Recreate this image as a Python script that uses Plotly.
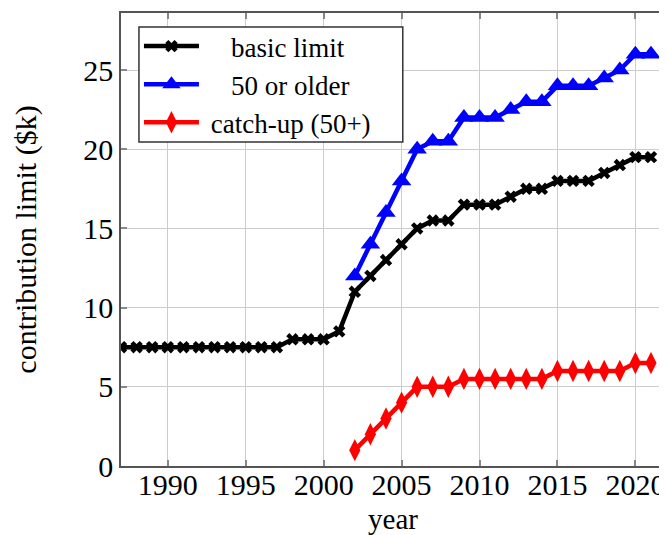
import plotly.graph_objects as go

years = list(range(1987, 2022))
basic_limit = [7.5, 7.5, 7.5, 7.5, 7.5, 7.5, 7.5, 7.5, 7.5, 7.5, 7.5,
               8.0, 8.0, 8.0, 8.5, 11.0, 12.0, 13.0, 14.0, 15.0, 15.5,
               15.5, 16.5, 16.5, 16.5, 17.0, 17.5, 17.5, 18.0, 18.0, 18.0,
               18.5, 19.0, 19.5, 19.5]

years_50 = list(range(2002, 2022))
older_50 = [12.0, 14.0, 16.0, 18.0, 20.0, 20.5, 20.5, 22.0, 22.0, 22.0,
            22.5, 23.0, 23.0, 24.0, 24.0, 24.0, 24.5, 25.0, 26.0, 26.0]
catch_up = [1.0, 2.0, 3.0, 4.0, 5.0, 5.0, 5.0, 5.5, 5.5, 5.5,
            5.5, 5.5, 5.5, 6.0, 6.0, 6.0, 6.0, 6.0, 6.5, 6.5]

x_ticks = [1990, 1995, 2000, 2005, 2010, 2015, 2020]
y_ticks = [0, 5, 10, 15, 20, 25]

FONT = "Liberation Serif"
NB = "\u00a0"

fig = go.Figure()
fig.add_trace(go.Scatter(x=years, y=basic_limit, mode="lines+markers",
                         name=NB * 4 + "basic limit",
                         line=dict(color="black", width=4.5),
                         marker=dict(symbol="x", size=11, color="black")))
fig.add_trace(go.Scatter(x=years_50, y=older_50, mode="lines+markers",
                         name=NB * 4 + "50 or older",
                         line=dict(color="blue", width=4.5),
                         marker=dict(symbol="triangle-up", size=17, color="blue")))
fig.add_trace(go.Scatter(x=years_50, y=catch_up, mode="lines+markers",
                         name=NB + "catch-up (50+)",
                         line=dict(color="red", width=4.5),
                         marker=dict(symbol="diamond-tall", size=16, color="red")))

axis_common = dict(
    showgrid=True, gridcolor="#cccccc", gridwidth=1,
    showline=True, linecolor="#555555", linewidth=1.5, mirror="ticks",
    ticks="inside", ticklen=6, tickcolor="#888888", tickwidth=1.5,
    zeroline=False, automargin=False,
    tickfont=dict(family=FONT, size=30, color="black"),
)

# legend frame drawn as a shape (white box above the lines, legend text on top)
fig.add_shape(type="rect", xref="paper", yref="paper",
              x0=0.033, x1=0.518, y0=0.715, y1=0.969, layer="above",
              fillcolor="white", line=dict(color="#333333", width=1.5))

# the page body has an 8px margin, so the figure is 8px smaller each way
fig.update_layout(
    width=659, height=527,
    margin=dict(l=113, r=2, t=5, b=69),
    plot_bgcolor="white", paper_bgcolor="white",
    font=dict(family=FONT, color="black"),
    xaxis=dict(range=[1987, 2021.9], tickvals=x_ticks, ticklabelstandoff=-9,
               title=dict(text="year", font=dict(family=FONT, size=29), standoff=20),
               **axis_common),
    yaxis=dict(range=[0, 28.6], tickvals=y_ticks,
               title=dict(text="contribution limit ($k)", font=dict(family=FONT, size=30), standoff=38),
               **axis_common),
    legend=dict(x=0.033, y=0.98, xanchor="left", yanchor="top",
                bgcolor="rgba(0,0,0,0)", borderwidth=0,
                font=dict(family=FONT, size=27, color="black"),
                itemwidth=55, tracegroupgap=0),
    showlegend=True,
)

fig.write_html("out.html")
